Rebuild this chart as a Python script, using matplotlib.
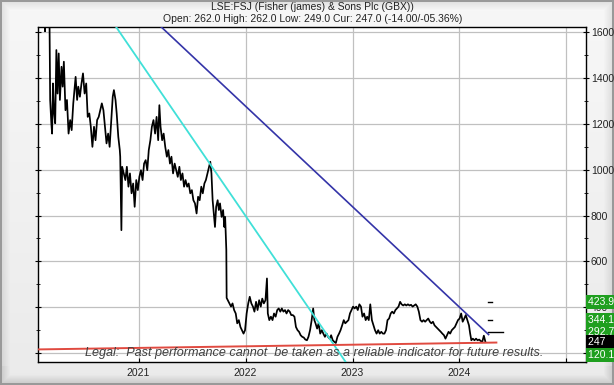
import numpy as np
import matplotlib
matplotlib.use("Agg")
import matplotlib.pyplot as plt

plt.rcParams["font.family"] = ["Liberation Sans", "DejaVu Sans"]

title = "LSE:FSJ (Fisher (james) & Sons Plc (GBX))"
subtitle = "Open: 262.0 High: 262.0 Low: 249.0 Cur: 247.0 (-14.00/-05.36%)"
legal = "Legal:  Past performance cannot  be taken as a reliable indicator for future results."

# price history, decimal year / pence
dates = [
    2020.070, 2020.114, 2020.125, 2020.130, 2020.151, 2020.166, 2020.173, 2020.184,
    2020.191, 2020.199, 2020.210, 2020.220, 2020.231, 2020.242, 2020.253, 2020.264,
    2020.279, 2020.290, 2020.301, 2020.316, 2020.330, 2020.345, 2020.360, 2020.374,
    2020.389, 2020.400, 2020.411, 2020.425, 2020.436, 2020.451, 2020.466, 2020.480,
    2020.495, 2020.510, 2020.524, 2020.539, 2020.553, 2020.568, 2020.583, 2020.597,
    2020.612, 2020.627, 2020.641, 2020.656, 2020.671, 2020.685, 2020.700, 2020.715,
    2020.729, 2020.744, 2020.758, 2020.769, 2020.784, 2020.795, 2020.810, 2020.824,
    2020.828, 2020.839, 2020.846, 2020.861, 2020.876, 2020.890, 2020.905, 2020.919,
    2020.934, 2020.949, 2020.963, 2020.978, 2020.993, 2021.007, 2021.022, 2021.037,
    2021.051, 2021.066, 2021.081, 2021.095, 2021.110, 2021.124, 2021.139, 2021.154,
    2021.168, 2021.183, 2021.194, 2021.205, 2021.220, 2021.234, 2021.249, 2021.264,
    2021.278, 2021.293, 2021.307, 2021.322, 2021.337, 2021.351, 2021.366, 2021.381,
    2021.395, 2021.410, 2021.425, 2021.439, 2021.454, 2021.468, 2021.483, 2021.498,
    2021.512, 2021.527, 2021.542, 2021.556, 2021.571, 2021.586, 2021.600, 2021.615,
    2021.629, 2021.644, 2021.659, 2021.670, 2021.681, 2021.692, 2021.703, 2021.714,
    2021.725, 2021.739, 2021.750, 2021.761, 2021.776, 2021.790, 2021.801, 2021.809,
    2021.820, 2021.823, 2021.834, 2021.849, 2021.864, 2021.878, 2021.893, 2021.908,
    2021.922, 2021.937, 2021.952, 2021.966, 2021.981, 2021.995, 2022.010, 2022.025,
    2022.039, 2022.054, 2022.069, 2022.083, 2022.098, 2022.112, 2022.127, 2022.142,
    2022.156, 2022.171, 2022.186, 2022.200, 2022.208, 2022.222, 2022.237, 2022.252,
    2022.266, 2022.281, 2022.296, 2022.310, 2022.325, 2022.339, 2022.354, 2022.369,
    2022.383, 2022.398, 2022.413, 2022.427, 2022.442, 2022.457, 2022.471, 2022.486,
    2022.500, 2022.515, 2022.530, 2022.544, 2022.559, 2022.574, 2022.588, 2022.603,
    2022.618, 2022.632, 2022.643, 2022.654, 2022.669, 2022.683, 2022.698, 2022.713,
    2022.727, 2022.742, 2022.757, 2022.771, 2022.786, 2022.800, 2022.815, 2022.830,
    2022.844, 2022.859, 2022.874, 2022.888, 2022.903, 2022.918, 2022.932, 2022.947,
    2022.962, 2022.976, 2022.991, 2023.005, 2023.020, 2023.035, 2023.049, 2023.064,
    2023.079, 2023.093, 2023.108, 2023.123, 2023.137, 2023.152, 2023.166, 2023.181,
    2023.196, 2023.210, 2023.225, 2023.240, 2023.254, 2023.269, 2023.284, 2023.298,
    2023.313, 2023.327, 2023.342, 2023.357, 2023.371, 2023.386, 2023.401, 2023.415,
    2023.430, 2023.445, 2023.459, 2023.474, 2023.489, 2023.503, 2023.518, 2023.533,
    2023.547, 2023.562, 2023.576, 2023.591, 2023.606, 2023.620, 2023.635, 2023.650,
    2023.664, 2023.679, 2023.694, 2023.708, 2023.723, 2023.737, 2023.752, 2023.767,
    2023.781, 2023.796, 2023.811, 2023.825, 2023.840, 2023.855, 2023.869, 2023.884,
    2023.898, 2023.913, 2023.928, 2023.942, 2023.957, 2023.972, 2023.986, 2024.001,
    2024.016, 2024.030, 2024.045, 2024.059, 2024.074, 2024.089, 2024.100, 2024.111,
    2024.125, 2024.140, 2024.155, 2024.169, 2024.184, 2024.198, 2024.213, 2024.228,
    2024.243,
]
prices = [
    1850, 1720, 1605, 1760, 1800, 1700, 1305, 1203,
    1158, 1377, 1246, 1203, 1523, 1333, 1508, 1305,
    1450, 1363, 1472, 1260, 1305, 1158, 1217, 1173,
    1290, 1348, 1406, 1305, 1363, 1319, 1377, 1421,
    1333, 1377, 1231, 1246, 1188, 1100, 1188, 1129,
    1217, 1231, 1260, 1290, 1260, 1188, 1115, 1158,
    1100, 1217, 1319, 1348, 1305, 1246, 1144, 1086,
    1057, 736, 1013, 984, 955, 1013, 926, 984,
    897, 940, 838, 955, 911, 969, 998, 955,
    1027, 1042, 998, 1086, 1129, 1188, 1217, 1158,
    1231, 1129, 1282, 1188, 1129, 1158, 1100, 1057,
    1086, 1027, 1057, 984, 1027, 998, 969, 1013,
    955, 984, 926, 955, 926, 940, 897, 911,
    867, 853, 809, 882, 867, 926, 897, 940,
    955, 984, 1013, 1035, 984, 867, 809, 750,
    838, 867, 824, 853, 794, 824, 750, 794,
    650, 440, 430, 416, 402, 416, 387, 372,
    329, 343, 313, 299, 284, 299, 372, 416,
    445, 416, 402, 380, 423, 387, 430, 402,
    437, 416, 430, 525, 372, 343, 358, 343,
    372, 358, 387, 394, 380, 394, 380, 387,
    372, 387, 380, 365, 365, 358, 313, 299,
    292, 277, 270, 267, 258, 255, 270, 299,
    343, 394, 343, 329, 306, 329, 284, 299,
    284, 270, 284, 270, 262, 277, 255, 248,
    243, 270, 284, 299, 320, 343, 329, 336,
    343, 372, 387, 402, 394, 402, 387, 412,
    402, 358, 372, 343, 358, 343, 412, 343,
    320, 299, 284, 299, 284, 292, 284, 284,
    299, 343, 350, 372, 380, 372, 387, 394,
    402, 423, 412, 407, 412, 407, 412, 407,
    410, 402, 407, 412, 402, 380, 343, 336,
    343, 336, 343, 350, 336, 329, 336, 320,
    313, 306, 299, 292, 284, 277, 262, 277,
    292, 284, 299, 306, 313, 329, 343, 350,
    372, 336, 350, 365, 343, 320, 284, 255,
    262, 255, 262, 255, 258, 252, 248, 275,
    247,
]

# trend lines (start, end)
cyan_x = [2020.788, 2022.936]
cyan_y = [1625, 160]
blue_x = [2021.209, 2024.272]
blue_y = [1625, 280]
red_x = [2020.063, 2024.345]
red_y = [215, 245]

# targets on the right
target_vals = [423.9, 344.1, 292.7]
target_x0 = 2024.268
target_x1 = [2024.305, 2024.305, 2024.407]
side_labels = ["423.9", "344.1", "292.7", "247", "120.1"]
side_vals = [423.9, 344.1, 292.7, 247, 120.1]
side_cols = ["#1f9f1f", "#1f9f1f", "#1f9f1f", "#000000", "#1f9f1f"]

years = [2021, 2022, 2023, 2024, 2025]
year_labels = ["2021", "2022", "2023", "2024", ""]

fig = plt.figure(figsize=(6.14, 3.85), dpi=100)

# bevelled grey frame
bg = fig.add_axes([0, 0, 1, 1])
H, W = 385, 614
yy, xx = np.mgrid[0:H, 0:W]
img = 0.97 - 0.05 * yy / H
d = np.minimum.reduce([xx, W - 1 - xx, yy, H - 1 - yy]).astype(float)
band = np.clip(1 - d / 10.0, 0, 1)
img = img - 0.10 * band * np.where(yy > H - 20, 1.4, 1.0)
img[(d < 1.5)] = 0.6
bg.imshow(np.dstack([img] * 3).clip(0, 1), aspect="auto", extent=[0, 1, 0, 1])
bg.axis("off")

ax = fig.add_axes([38.4 / 614, 1 - 362 / 385, 547.6 / 614, 335.3 / 385])
ax.set_facecolor("white")

ax.plot(dates, prices, color="black", lw=1.25, zorder=3)
ax.plot(cyan_x, cyan_y, color="#40e0d8", lw=1.3, zorder=4)
ax.plot(blue_x, blue_y, color="#3434a8", lw=1.2, zorder=4)
ax.plot(red_x, red_y, color="#e04a40", lw=1.4, zorder=4)

for v, x1 in zip(target_vals, target_x1):
    ax.plot([target_x0, x1], [v, v], color="black", lw=1.0, zorder=4)

ax.set_xticks(years)
ax.set_xticklabels(year_labels)
ax.set_yticks(range(200, 1601, 200))
ax.set_yticks(range(200, 1601, 100), minor=True)
ax.set_xlim(2020.063, 2025.183)
ax.set_ylim(160, 1625)
ax.yaxis.tick_right()
ax.tick_params(axis="y", which="both", left=True, right=True, direction="inout",
               labelsize=7.5, labelcolor="#222222", pad=1)
ax.tick_params(axis="y", which="major", length=5)
ax.tick_params(axis="y", which="minor", length=3)
ax.tick_params(axis="x", direction="in", length=3, labelsize=7.5,
               labelcolor="#222222", pad=4, top=False)
ax.grid(True, which="major", color="#c0c0c0", lw=0.9)
ax.set_axisbelow(True)
for s in ax.spines.values():
    s.set_linewidth(1.0)
    s.set_color("black")

ylo = ax.get_ylim()[0]
for txt, v, c in zip(side_labels, side_vals, side_cols):
    ax.annotate(txt + "    ", xy=(1.0, max(v, ylo + 30)),
                xycoords=("axes fraction", "data"),
                xytext=(1.5, 0), textcoords="offset points",
                ha="left", va="center", fontsize=7.5, color="white",
                bbox=dict(boxstyle="square,pad=0.2", fc=c, ec="none"),
                annotation_clip=False, zorder=6)

ax.text(0.503, 0.028, legal, transform=ax.transAxes, ha="center", va="center",
        fontsize=9.1, style="italic", color="#404040", zorder=5)

fig.text(312 / 614, 1 - 7.5 / 385, title, ha="center", va="center",
         fontsize=7.5, color="#222222")
fig.text(313 / 614, 1 - 19.5 / 385, subtitle, ha="center", va="center",
         fontsize=7.5, color="#222222")

fig.savefig("out.png", dpi=100)
